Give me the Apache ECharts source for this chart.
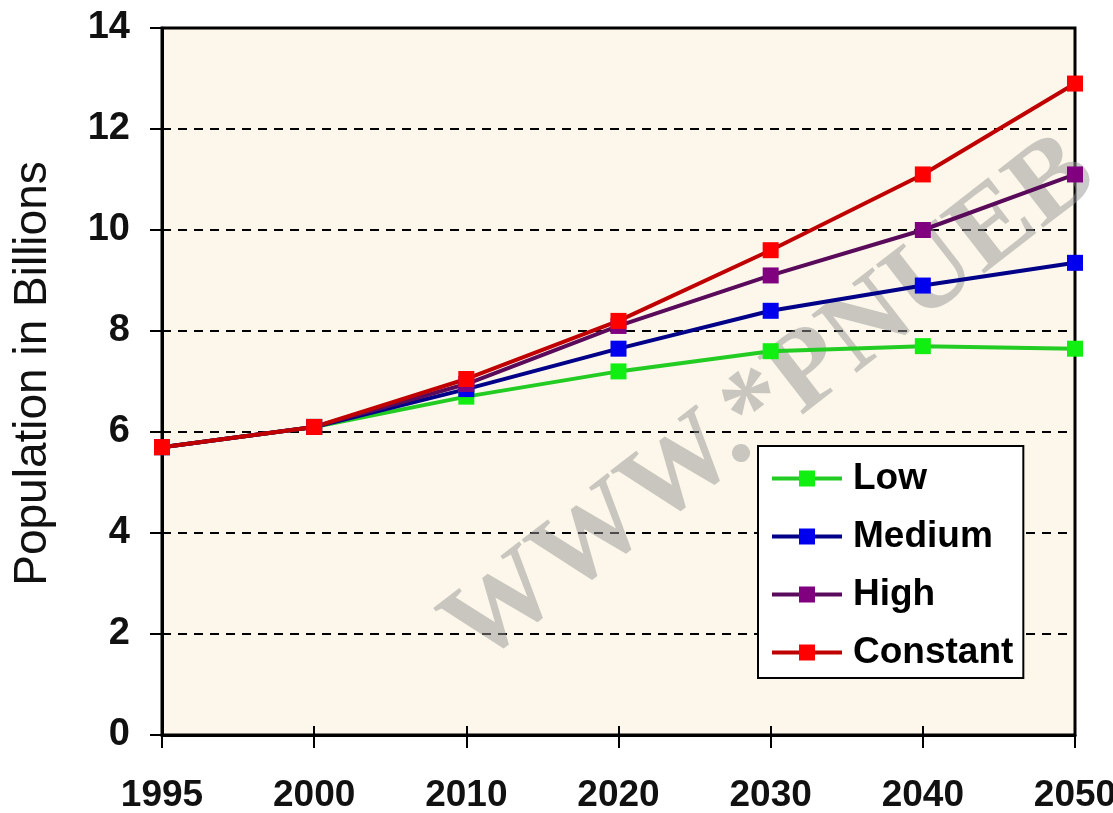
<!DOCTYPE html>
<html>
<head>
<meta charset="utf-8">
<script src="https://cdn.jsdelivr.net/npm/echarts@6/dist/echarts.min.js"></script>
<style>
html,body{margin:0;padding:0;background:#fff;}
#chart{width:1113px;height:813px;}
</style>
</head>
<body>
<div id="chart"></div>
<script>
// years on the x axis (equally spaced categories)
var years = ['1995', '2000', '2010', '2020', '2030', '2040', '2050'];
var yTicks = [0, 2, 4, 6, 8, 10, 12, 14];
var seriesNames = ['Low', 'Medium', 'High', 'Constant'];
var lowVals = [5.7, 6.1, 6.7, 7.2, 7.6, 7.7, 7.65];
var mediumVals = [5.7, 6.1, 6.85, 7.65, 8.4, 8.9, 9.35];
var highVals = [5.7, 6.1, 6.95, 8.1, 9.1, 10.0, 11.1];
var constantVals = [5.7, 6.1, 7.05, 8.2, 9.6, 11.1, 12.9];

var fontFam = "'Liberation Sans', Arial, sans-serif";

function mkSeries(name, vals, lineCol, markCol) {
  return {
    name: name,
    type: 'line',
    data: vals,
    symbol: 'rect',
    symbolSize: 16,
    z: 3,
    lineStyle: { color: lineCol, width: 4 },
    itemStyle: { color: markCol, borderColor: markCol, borderWidth: 0 }
  };
}

var myChart = echarts.init(document.getElementById('chart'));
var option = {
  animation: false,
  backgroundColor: '#ffffff',
  grid: {
    left: 162,
    right: 38,
    top: 28,
    bottom: 78,
    outerBoundsMode: 'none',
    containLabel: false,
    show: true,
    backgroundColor: '#FCF7EA',
    borderColor: '#000',
    borderWidth: 3
  },
  legend: {
    orient: 'vertical',
    left: 758,
    top: 446,
    data: seriesNames,
    backgroundColor: '#ffffff',
    borderColor: '#000',
    borderWidth: 2,
    padding: [14, 10, 7, 12],
    itemWidth: 70,
    itemHeight: 20,
    itemGap: 21,
    lineStyle: { width: 4 },
    textStyle: {
      fontFamily: fontFam,
      fontSize: 37,
      fontWeight: 'bold',
      color: '#000',
      padding: [0, 0, 0, 6]
    }
  },
  graphic: [{
    type: 'text',
    z: 1,
    x: 425,
    y: 600,
    rotation: 0.66,
    style: {
      text: 'WWW.*PNUEB',
      font: 'bold 112px "Liberation Serif", serif',
      fill: 'rgba(150,150,150,0.5)'
    }
  }],
  xAxis: [{
    type: 'category',
    data: years,
    boundaryGap: false,
    position: 'bottom',
    axisLine: { lineStyle: { color: '#000', width: 3 } },
    axisTick: { show: true, inside: false, length: 13, lineStyle: { color: '#000', width: 2 } },
    axisLabel: {
      margin: 42,
      fontFamily: fontFam,
      fontSize: 37,
      fontWeight: 'bold',
      color: '#111'
    },
    splitLine: { show: false }
  }, {
    type: 'category',
    data: years,
    boundaryGap: false,
    position: 'bottom',
    axisLine: { show: false },
    axisTick: { show: true, inside: true, length: 9, lineStyle: { color: '#000', width: 2 } },
    axisLabel: { show: false },
    splitLine: { show: false }
  }],
  yAxis: {
    type: 'value',
    min: yTicks[0],
    max: yTicks[yTicks.length - 1],
    interval: 2,
    name: 'Population in Billions',
    nameLocation: 'middle',
    nameGap: 106,
    nameTextStyle: {
      fontFamily: fontFam,
      fontSize: 46,
      color: '#111',
      padding: [0, 0, 0, 16]
    },
    axisLine: { show: true, lineStyle: { color: '#000', width: 3 } },
    axisTick: { show: true, length: 12, lineStyle: { color: '#000', width: 2 } },
    axisLabel: {
      margin: 32,
      fontFamily: fontFam,
      fontSize: 38,
      fontWeight: 'bold',
      color: '#111'
    },
    splitLine: { show: true, lineStyle: { color: '#000', width: 2, type: [9, 7] } }
  },
  series: [
    mkSeries('Low', lowVals, '#22cc22', '#11ee11'),
    mkSeries('Medium', mediumVals, '#000088', '#0000ee'),
    mkSeries('High', highVals, '#5a0a5a', '#800080'),
    mkSeries('Constant', constantVals, '#c00000', '#ff0000')
  ]
};
myChart.setOption(option);
</script>
</body>
</html>
